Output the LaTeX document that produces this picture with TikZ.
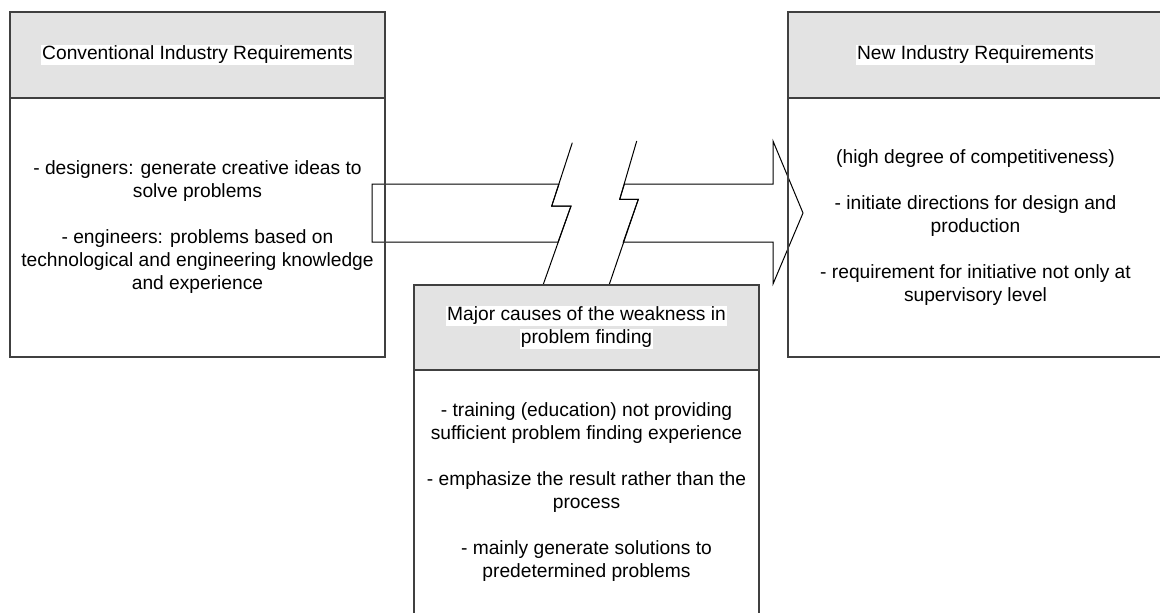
\documentclass[tikz,border=0pt]{standalone}
\usepackage{fontspec}
\setmainfont{Liberation Sans}
\definecolor{headgray}{HTML}{E3E3E3}
\definecolor{linegray}{HTML}{404040}
\newcommand{\hl}[1]{{\setlength{\fboxsep}{0.6pt}\colorbox{white}{#1}}}

\begin{document}
\begin{tikzpicture}
	[x=0.5pt,y=-0.5pt,
	 font=\fontsize{9.6}{11.5}\selectfont,
	 head/.style={draw=linegray,line width=0.65pt,fill=headgray,minimum width=187.5pt,minimum height=43pt,align=center,inner sep=0pt},
	 body/.style={draw=linegray,line width=0.65pt,minimum width=187.5pt,minimum height=129.5pt,align=center,inner sep=0pt},
	 piece/.style={draw=black,line width=0.5pt,fill=white,line join=miter},
	 brk/.style={draw=black,line width=0.5pt}]

	\useasboundingbox (0,0) rectangle (1160,612);
	\clip (0,0) rectangle (1160,612);

	% broken arrow
	\draw[piece] (372,184) -- (559,184) -- (551.7,206) -- (571,206) -- (558.1,242) -- (372,242) -- cycle;
	\draw[piece] (624.4,184) -- (773,184) -- (773,141) -- (803,213) -- (773,284) -- (773,242)
		-- (623.3,242) -- (638.3,199.3) -- (619.7,199.3) -- cycle;
	\draw[brk] (572.3,142.7) -- (551.7,206) -- (571,206) -- (543.3,284.3);
	\draw[brk] (636.7,141) -- (619.7,199.3) -- (638.3,199.3) -- (609.3,284.3);

	% conventional
	\node[head] (convhead) at (197.5,55) {\hl{Conventional Industry Requirements}};
	\node[body] (convbody) at (197.5,227.5) {- designers: generate creative ideas to\\ solve problems\\[11.5pt]
		- engineers: problems based on\\ technological and engineering knowledge\\ and experience};

	% new
	\node[head] (newhead) at (975.5,55) {\hl{New Industry Requirements}};
	\node[body] (newbody) at (975.5,227.5) {(high degree of competitiveness)\\[11.5pt]
		- initiate directions for design and\\ production\\[11.5pt]
		- requirement for initiative not only at\\ supervisory level};

	% causes
	\node[head,minimum width=172.5pt,minimum height=42.5pt] (causehead) at (586.5,327.5)
		{\hl{Major causes of the weakness in}\\ \hl{problem finding}};
	\node[body,minimum width=172.5pt,minimum height=122pt] (causebody) at (586.5,492)
		{- training (education) not providing\\ sufficient problem finding experience\\[11.5pt]
		- emphasize the result rather than the\\ process\\[11.5pt]
		- mainly generate solutions to\\ predetermined problems};
\end{tikzpicture}
\end{document}
